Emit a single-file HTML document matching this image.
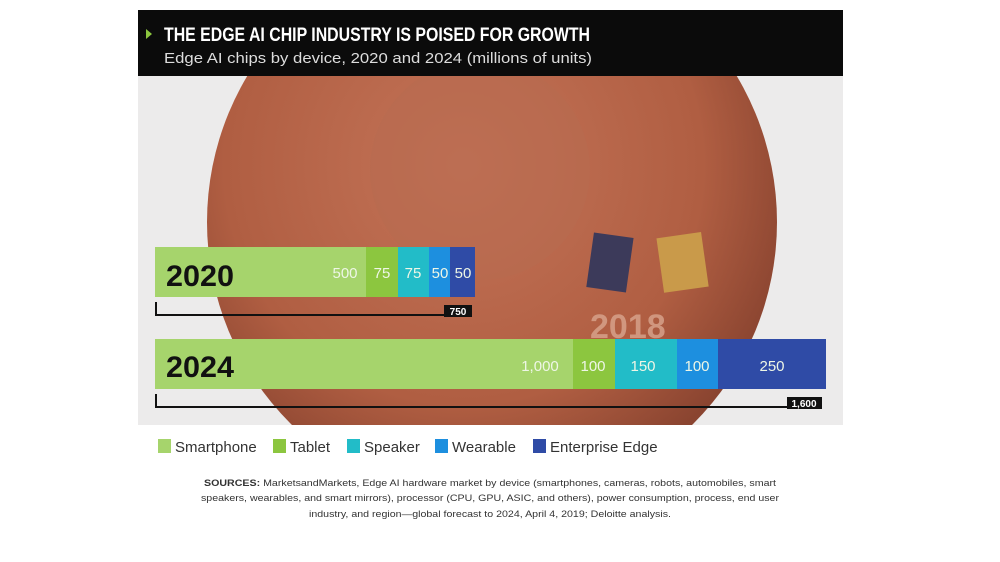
<!DOCTYPE html>
<html><head><meta charset="utf-8"><style>
body{margin:0;background:#fff;width:1000px;height:562px;overflow:hidden;font-family:"Liberation Sans",sans-serif;}
</style></head><body>
<svg width="1000" height="562" xmlns="http://www.w3.org/2000/svg" style="position:absolute;left:0;top:0">
<defs>
<radialGradient id="cu" cx="45%" cy="40%" r="60%">
<stop offset="0" stop-color="#c47458"/><stop offset="0.7" stop-color="#b05e42"/><stop offset="1" stop-color="#8a4430"/>
</radialGradient>
<clipPath id="ph"><rect x="138" y="76" width="705" height="349"/></clipPath>
</defs>
<rect x="138" y="76" width="705" height="349" fill="#ecebeb"/>
<g clip-path="url(#ph)">
<circle cx="492" cy="222" r="285" fill="url(#cu)"/>
<ellipse cx="480" cy="170" rx="110" ry="110" fill="#b86a50" opacity="0.6"/>
<text x="590" y="338" font-size="34" fill="#d9a58e" font-weight="bold" opacity="0.8">2018</text>
<rect x="590" y="235" width="40" height="55" fill="#3c3a5a" transform="rotate(8 610 262)"/>
<rect x="660" y="235" width="45" height="55" fill="#c99a4a" transform="rotate(-8 682 262)"/>
</g>
<rect x="138" y="10" width="705" height="66" fill="#0b0b0b"/>
<polygon points="146,29 152,34 146,39" fill="#8cc63f"/>
<text x="164" y="41" font-size="19" font-weight="bold" fill="#fff" textLength="426" lengthAdjust="spacingAndGlyphs">THE EDGE AI CHIP INDUSTRY IS POISED FOR GROWTH</text>
<text x="164" y="63" font-size="15" fill="#ddd" textLength="428" lengthAdjust="spacingAndGlyphs">Edge AI chips by device, 2020 and 2024 (millions of units)</text>

<!-- 2020 -->
<rect x="155" y="247" width="211" height="50" fill="#a6d46c"/>
<rect x="366" y="247" width="32" height="50" fill="#8cc63f"/>
<rect x="398" y="247" width="31" height="50" fill="#22bcc8"/>
<rect x="429" y="247" width="21" height="50" fill="#1d8fdf"/>
<rect x="450" y="247" width="25" height="50" fill="#2f4ba6"/>
<text x="166" y="286" font-size="30" font-weight="bold" fill="#111" textLength="68" lengthAdjust="spacingAndGlyphs">2020</text>
<g font-size="15" fill="#eef6e6" text-anchor="middle">
<text x="345" y="278">500</text><text x="382" y="278">75</text><text x="413" y="278">75</text><text x="440" y="278">50</text><text x="463" y="278">50</text>
</g>
<path d="M156 302 V315 H470" stroke="#111" stroke-width="2" fill="none"/>
<rect x="444" y="305" width="28" height="12" fill="#111"/>
<text x="458" y="315" font-size="10" font-weight="bold" fill="#fff" text-anchor="middle">750</text>

<!-- 2024 -->
<rect x="155" y="339" width="418" height="50" fill="#a6d46c"/>
<rect x="573" y="339" width="42" height="50" fill="#8cc63f"/>
<rect x="615" y="339" width="62" height="50" fill="#22bcc8"/>
<rect x="677" y="339" width="41" height="50" fill="#1d8fdf"/>
<rect x="718" y="339" width="108" height="50" fill="#2f4ba6"/>
<text x="166" y="377" font-size="30" font-weight="bold" fill="#111" textLength="68" lengthAdjust="spacingAndGlyphs">2024</text>
<g font-size="15" fill="#eef6e6" text-anchor="middle">
<text x="540" y="371">1,000</text><text x="593" y="371">100</text><text x="643" y="371">150</text><text x="697" y="371">100</text><text x="772" y="371">250</text>
</g>
<path d="M156 394 V407 H820" stroke="#111" stroke-width="2" fill="none"/>
<rect x="787" y="397" width="35" height="12" fill="#111"/>
<text x="804" y="407" font-size="10" font-weight="bold" fill="#fff" text-anchor="middle">1,600</text>

<!-- legend -->
<g font-size="15" fill="#333">
<rect x="158" y="439" width="13" height="14" fill="#a6d46c"/><text x="175" y="452">Smartphone</text>
<rect x="273" y="439" width="13" height="14" fill="#8cc63f"/><text x="290" y="452">Tablet</text>
<rect x="347" y="439" width="13" height="14" fill="#22bcc8"/><text x="364" y="452">Speaker</text>
<rect x="435" y="439" width="13" height="14" fill="#1d8fdf"/><text x="452" y="452">Wearable</text>
<rect x="533" y="439" width="13" height="14" fill="#2f4ba6"/><text x="550" y="452">Enterprise Edge</text>
</g>
<g font-size="9.5" fill="#333" text-anchor="middle">
<text x="490" y="486" textLength="572" lengthAdjust="spacingAndGlyphs"><tspan font-weight="bold">SOURCES:</tspan> MarketsandMarkets, Edge AI hardware market by device (smartphones, cameras, robots, automobiles, smart</text>
<text x="490" y="501" textLength="578" lengthAdjust="spacingAndGlyphs">speakers, wearables, and smart mirrors), processor (CPU, GPU, ASIC, and others), power consumption, process, end user</text>
<text x="490" y="517" textLength="362" lengthAdjust="spacingAndGlyphs">industry, and region—global forecast to 2024, April 4, 2019; Deloitte analysis.</text>
</g>
</svg>
</body></html>
